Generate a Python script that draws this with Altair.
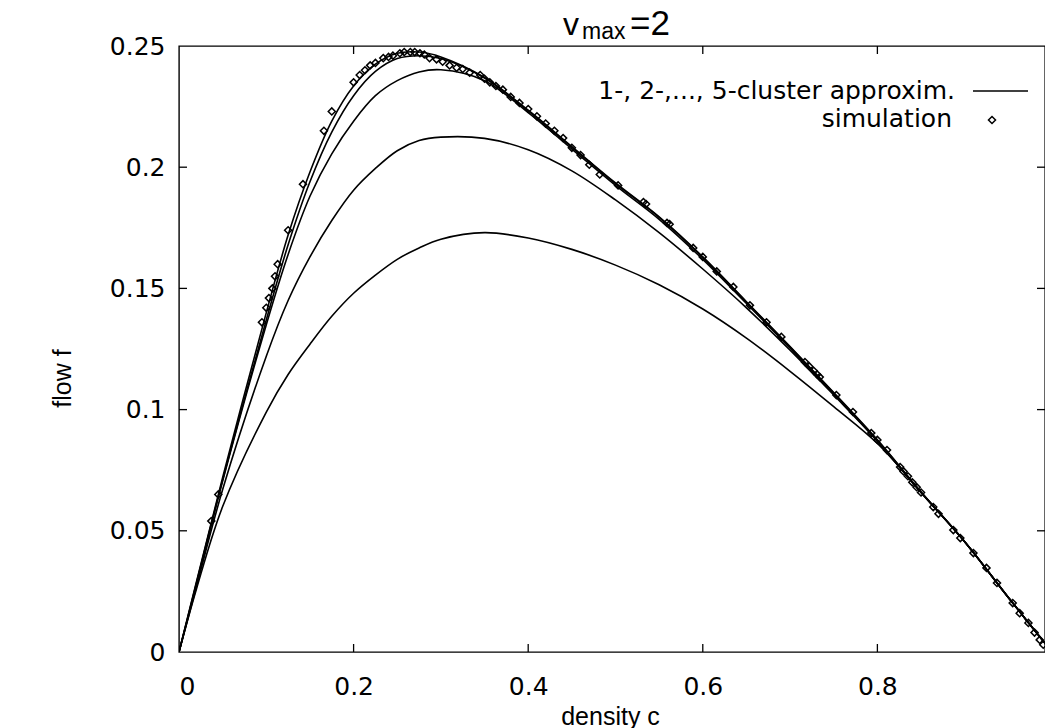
import altair as alt
import pandas as pd

# ---- data ----
density_grid = [0, 0.02, 0.05, 0.1, 0.125, 0.15, 0.175, 0.2, 0.225, 0.25, 0.275, 0.3,
                0.35, 0.4, 0.45, 0.5, 0.55, 0.6, 0.65, 0.7, 0.75, 0.8, 0.85, 0.9, 0.95, 1.0]

flow_1cluster = [0, 0.026, 0.06, 0.099, 0.1145, 0.127, 0.1385, 0.148, 0.1555, 0.162, 0.1667, 0.1703,
                 0.173, 0.1708, 0.1661, 0.1596, 0.1515, 0.1415, 0.1295, 0.1158, 0.1012, 0.086, 0.066,
                 0.0455, 0.0225, 0]
flow_2cluster = [0, 0.027, 0.067, 0.122, 0.145, 0.163, 0.178, 0.1905, 0.1995, 0.2068, 0.211, 0.2124,
                 0.2119, 0.2072, 0.1985, 0.1865, 0.173, 0.158, 0.142, 0.1245, 0.106, 0.087, 0.0658,
                 0.0455, 0.0225, 0]
flow_3cluster = [0, 0.028, 0.0705, 0.135, 0.164, 0.188, 0.2055, 0.219, 0.2295, 0.2357, 0.2393, 0.2402,
                 0.2357, 0.2225, 0.2075, 0.1925, 0.1785, 0.162, 0.1438, 0.1253, 0.1065, 0.087, 0.0658,
                 0.0455, 0.0225, 0]
flow_4cluster = [0, 0.0285, 0.071, 0.137, 0.168, 0.194, 0.2145, 0.2295, 0.2395, 0.2448, 0.246, 0.2448,
                 0.2368, 0.2232, 0.2082, 0.1932, 0.1793, 0.1628, 0.1443, 0.1258, 0.1068, 0.0873,
                 0.0659, 0.0455, 0.0225, 0]
flow_5cluster = [0, 0.029, 0.072, 0.140, 0.172, 0.198, 0.219, 0.2335, 0.2425, 0.247, 0.2475, 0.2455,
                 0.237, 0.2235, 0.2085, 0.1935, 0.1795, 0.163, 0.1445, 0.126, 0.107, 0.0875, 0.066,
                 0.0455, 0.0225, 0]

sim_density = [0.037, 0.045, 0.095, 0.1, 0.103, 0.107, 0.11, 0.113, 0.125, 0.142, 0.166, 0.175,
               0.2, 0.207, 0.213, 0.219, 0.225, 0.234, 0.24, 0.245, 0.253, 0.258, 0.265, 0.27,
               0.276, 0.281, 0.287, 0.295, 0.302, 0.31, 0.318, 0.325, 0.333, 0.345, 0.35, 0.356,
               0.363, 0.371, 0.38, 0.39, 0.4, 0.41, 0.42, 0.43, 0.44, 0.45, 0.46, 0.47, 0.482,
               0.503, 0.532, 0.535, 0.559, 0.562, 0.589, 0.6, 0.616, 0.635, 0.654, 0.673, 0.69,
               0.717, 0.722, 0.727, 0.731, 0.734, 0.753, 0.772, 0.793, 0.8, 0.811, 0.826, 0.83,
               0.835, 0.84, 0.845, 0.85, 0.864, 0.87, 0.887, 0.895, 0.91, 0.925, 0.937, 0.955,
               0.963, 0.973, 0.98, 0.986, 0.99]
sim_flow = [0.054, 0.065, 0.136, 0.142, 0.146, 0.150, 0.155, 0.160, 0.174, 0.193, 0.215, 0.223,
            0.235, 0.238, 0.240, 0.242, 0.243, 0.245, 0.2455, 0.246, 0.247, 0.2475, 0.2475, 0.2475,
            0.247, 0.2465, 0.245, 0.2445, 0.2435, 0.242, 0.241, 0.2405, 0.239, 0.238, 0.2365, 0.235,
            0.2335, 0.232, 0.229, 0.2265, 0.224, 0.221, 0.218, 0.215, 0.212, 0.208, 0.205, 0.201,
            0.197, 0.1925, 0.1856, 0.1848, 0.177, 0.1765, 0.1667, 0.163, 0.157, 0.1506, 0.143,
            0.136, 0.130, 0.1196, 0.1178, 0.116, 0.1145, 0.1134, 0.106, 0.099, 0.0903, 0.0875,
            0.0833, 0.0763, 0.0745, 0.0725, 0.070, 0.068, 0.0658, 0.0598, 0.057, 0.0503, 0.047,
            0.0408, 0.0347, 0.0285, 0.0202, 0.016, 0.012, 0.008, 0.005, 0.003]

x_ticks = [0.2, 0.4, 0.6, 0.8]
y_ticks = [0.05, 0.1, 0.15, 0.2]
x_labels = [0, 0.2, 0.4, 0.6, 0.8]
y_labels = [0, 0.05, 0.1, 0.15, 0.2, 0.25]

# ---- tables ----
rows = []
for name, vals in [("1", flow_1cluster), ("2", flow_2cluster), ("3", flow_3cluster),
                   ("4", flow_4cluster), ("5", flow_5cluster)]:
    for c, f in zip(density_grid, vals):
        rows.append({"series": name, "c": c, "f": f})
curves = pd.DataFrame(rows)
sim = pd.DataFrame({"c": sim_density, "f": sim_flow})
xt = pd.DataFrame({"c": x_ticks})
yt = pd.DataFrame({"f": y_ticks})
one = pd.DataFrame({"k": [0]})

W, H = 866, 606
FONT = "Liberation Sans"
WIDE = "DejaVu Sans"

xs = alt.Scale(domain=[0, 0.992], nice=False)
ys = alt.Scale(domain=[0, 0.25], nice=False)

X = alt.X("c:Q", scale=xs, axis=alt.Axis(values=x_labels, format="~g", title="density c",
                                         labelPadding=22, titleX=431, titleY=64,
                                         titleBaseline="middle", titleAlign="center"))
Y = alt.Y("f:Q", scale=ys, axis=alt.Axis(values=y_labels, format="~g", title="flow f",
                                         labelPadding=14, titleX=-117, titleY=332,
                                         titleBaseline="middle", titleAlign="center"))

lines = alt.Chart(curves).mark_line(color="black", strokeWidth=1.6, interpolate="catmull-rom",
                                    clip=True).encode(x=X, y=Y, detail="series:N")

points = alt.Chart(sim).mark_point(shape="diamond", filled=False, color="black", size=50,
                                   strokeWidth=1.5, opacity=1).encode(
    x=alt.X("c:Q", scale=xs), y=alt.Y("f:Q", scale=ys))

tick_b = alt.Chart(xt).mark_rule(color="black", strokeWidth=1.3).encode(
    x=alt.X("c:Q", scale=xs), y=alt.value(H), y2=alt.value(H - 8))
tick_t = alt.Chart(xt).mark_rule(color="black", strokeWidth=1.3).encode(
    x=alt.X("c:Q", scale=xs), y=alt.value(0), y2=alt.value(8))
tick_l = alt.Chart(yt).mark_rule(color="black", strokeWidth=1.3).encode(
    y=alt.Y("f:Q", scale=ys), x=alt.value(0), x2=alt.value(8))
tick_r = alt.Chart(yt).mark_rule(color="black", strokeWidth=1.3).encode(
    y=alt.Y("f:Q", scale=ys), x=alt.value(W - 8), x2=alt.value(W))

def txt(s, x, y, size, align="left", font=FONT):
    return alt.Chart(pd.DataFrame({"t": [s]})).mark_text(
        font=font, fontSize=size, align=align, baseline="alphabetic", color="black"
    ).encode(x=alt.value(x), y=alt.value(y), text="t:N")

title_v = txt("v", 384, -11, 32)
title_max = txt("max", 403, -7, 23)
title_eq = txt("=2", 451, -11, 35)

leg1 = txt("1-, 2-,..., 5-cluster approxim.", 776, 53, 25, "right", WIDE)
leg2 = txt("simulation", 773, 81, 25, "right", WIDE)
leg_rule = alt.Chart(one).mark_rule(color="black", strokeWidth=1.6).encode(
    x=alt.value(794), x2=alt.value(849), y=alt.value(45))
leg_pt = alt.Chart(one).mark_point(shape="diamond", filled=False, color="black", size=50,
                                   strokeWidth=1.5, opacity=1).encode(
    x=alt.value(813), y=alt.value(74))

chart = alt.layer(lines, points, tick_b, tick_t, tick_l, tick_r,
                  title_v, title_max, title_eq, leg1, leg2, leg_rule, leg_pt).properties(
    width=W, height=H,
    autosize=alt.AutoSizeParams(type="none"),
    padding={"left": 179, "top": 46, "right": 0, "bottom": 76},
    background="white",
).configure_view(stroke="black", strokeWidth=1.4).configure_axis(
    domain=False, ticks=False, tickSize=0, grid=False,
    labelFont=WIDE, labelFontSize=25, labelColor="black",
    titleFont=FONT, titleFontSize=25, titleFontWeight="normal", titleColor="black",
)

chart.save("out.html", embed_options={"renderer": "svg", "actions": False})
